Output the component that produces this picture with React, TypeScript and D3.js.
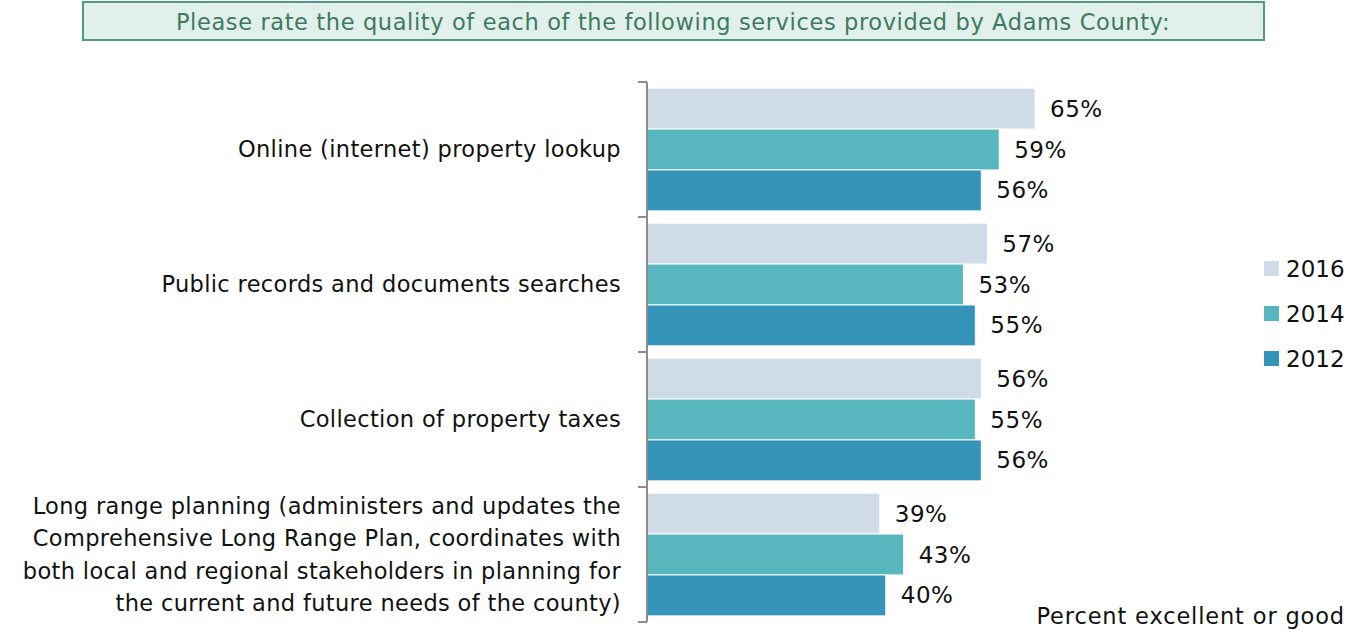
import React from "react";
import * as d3 from "d3";

const categories = [
  ["Online (internet) property lookup"],
  ["Public records and documents searches"],
  ["Collection of property taxes"],
  [
    "Long range planning (administers and updates the",
    "Comprehensive Long Range Plan, coordinates with",
    "both local and regional stakeholders in planning for",
    "the current and future needs of the county)",
  ],
];
const seriesNames = ["2016", "2014", "2012"];
const values2016 = [65, 57, 56, 39];
const values2014 = [59, 53, 55, 43];
const values2012 = [56, 55, 56, 40];
const seriesColors = ["#cfdbe6", "#58b6bf", "#3494ba"];
const titleText = "Please rate the quality of each of the following services provided by Adams County:";
const noteText = "Percent excellent or good";

const FONT = "'DejaVu Sans', sans-serif";

export default function App() {
  const W = 1361, H = 634;
  const axisX = 647;
  const x = d3.scaleLinear().domain([0, 100]).range([axisX, axisX + 597]);
  const y0 = d3.scaleBand<number>().domain(d3.range(categories.length)).range([82, 622]).paddingInner(0).paddingOuter(0);
  const y1 = d3.scaleBand<number>().domain([0, 1, 2]).range([0, y0.bandwidth()]).paddingOuter(0.15).paddingInner(0);
  const allSeries = [values2016, values2014, values2012];

  return (
    <svg width={W} height={H} style={{ position: "absolute", left: 0, top: 0 }}>
      <rect x={0} y={0} width={W} height={H} fill="#fff" />
      <rect x={83} y={2} width={1181} height={38} fill="#e2f0eb" stroke="#4f9a80" strokeWidth={2} />
      <text x={673} y={22} dy="0.35em" textAnchor="middle" fontFamily={FONT} fontSize={22.5} letterSpacing={0.62} fill="#3d7a5f">{titleText}</text>

      {categories.map((lines, i) => {
        const cy = (y0(i) as number) + y0.bandwidth() / 2;
        const lh = 32.5;
        const start = cy - ((lines.length - 1) * lh) / 2;
        return (
          <text key={i} textAnchor="end" fontFamily={FONT} fontSize={22.5} letterSpacing={0.35} fill="#111">
            {lines.map((l, j) => (
              <tspan key={j} x={621} y={start + j * lh} dy="0.35em">{l}</tspan>
            ))}
          </text>
        );
      })}

      {allSeries.map((vals, s) =>
        vals.map((v, i) => {
          const by = (y0(i) as number) + (y1(s) as number);
          const bh = y1.bandwidth();
          return (
            <g key={`${s}-${i}`}>
              <rect x={x(0)} y={by} width={x(v) - x(0)} height={bh} fill={seriesColors[s]} stroke="#fff" strokeWidth={1} />
              <text x={x(v) + 15} y={by + bh / 2} dy="0.35em" fontFamily={FONT} fontSize={23} letterSpacing={0.5} fill="#111">{v}%</text>
            </g>
          );
        })
      )}

      <line x1={axisX} x2={axisX} y1={82} y2={622} stroke="#8c8c8c" strokeWidth={2} />
      {d3.range(categories.length + 1).map((i) => {
        const ty = i < categories.length ? (y0(i) as number) : 622;
        return <line key={i} x1={638} x2={axisX} y1={ty} y2={ty} stroke="#8c8c8c" strokeWidth={2} />;
      })}

      {seriesNames.map((n, s) => (
        <g key={n}>
          <rect x={1264} y={261 + s * 45} width={15} height={15} fill={seriesColors[s]} />
          <text x={1286} y={268.5 + s * 45} dy="0.35em" fontFamily={FONT} fontSize={23} fill="#111">{n}</text>
        </g>
      ))}

      <text x={1345} y={624} textAnchor="end" fontFamily={FONT} fontSize={22.5} letterSpacing={0.85} fill="#111">{noteText}</text>
    </svg>
  );
}
